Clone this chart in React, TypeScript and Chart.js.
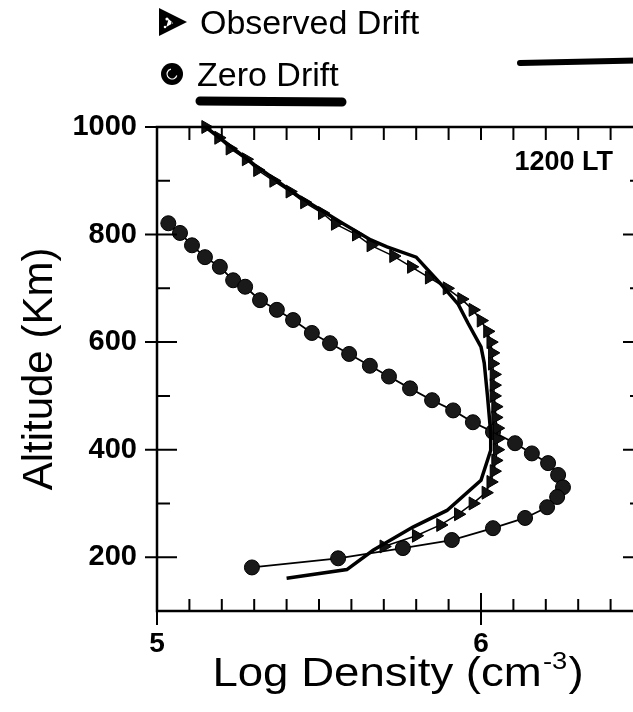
import React, { useEffect, useRef } from 'react';
import { Chart, registerables } from 'chart.js';

Chart.register(...registerables);

// ---- Data ----
// Observed Drift model (triangles)
const observedAlt = [1000, 980, 960, 940, 920, 900, 880, 860, 840, 820, 800, 780, 760, 740, 720, 700, 680, 660, 640, 620, 600, 580, 560, 540, 520, 500, 480, 460, 440, 420, 400, 380, 360, 340, 320, 300, 280, 260, 240, 220];
const observedLogN = [5.15, 5.19, 5.225, 5.275, 5.31, 5.36, 5.41, 5.455, 5.51, 5.55, 5.615, 5.66, 5.73, 5.785, 5.84, 5.895, 5.94, 5.975, 6.0, 6.02, 6.03, 6.035, 6.035, 6.04, 6.04, 6.04, 6.045, 6.045, 6.05, 6.05, 6.05, 6.045, 6.04, 6.03, 6.015, 5.975, 5.93, 5.875, 5.8, 5.7];

// Zero Drift model (circles)
const zeroAlt = [821, 803, 780, 758, 740, 715, 703, 678, 660, 641, 617, 598, 578, 556, 536, 514, 492, 473, 451, 433, 412, 393, 375, 353, 330, 312, 293, 273, 254, 232, 217, 198, 181];
const zeroLogN = [5.035, 5.071, 5.108, 5.148, 5.194, 5.235, 5.272, 5.318, 5.37, 5.42, 5.478, 5.534, 5.593, 5.657, 5.716, 5.781, 5.849, 5.914, 5.975, 6.037, 6.105, 6.157, 6.207, 6.238, 6.253, 6.235, 6.204, 6.136, 6.037, 5.91, 5.759, 5.559, 5.293];

// Measured profile (thick solid line)
const measuredAlt = [1000, 930, 870, 820, 790, 777, 758, 710, 670, 635, 591, 561, 500, 431, 399, 343, 287, 256, 213, 177, 161];
const measuredLogN = [5.15, 5.3, 5.44, 5.575, 5.66, 5.71, 5.8, 5.873, 5.93, 5.96, 6.0, 6.01, 6.02, 6.03, 6.03, 6.0, 5.895, 5.79, 5.667, 5.586, 5.4];

const seriesLabels = ['Observed Drift', 'Zero Drift', 'Measured'];
const xTickLabels = [5, 6];
const yTickLabels = [200, 400, 600, 800, 1000];
const panelLabel = '1200 LT';
const xTitleParts = ['Log Density (cm', '-3', ')'];
const yTitle = 'Altitude (Km)';

const FONT = '"Liberation Sans", Arial, Helvetica, sans-serif';

const decorPlugin = {
  id: 'decor',
  afterDraw(chart: any) {
    const { ctx, chartArea: a, scales } = chart;
    const xs = scales.x;
    const ys = scales.y;
    ctx.save();
    ctx.strokeStyle = '#000';
    ctx.fillStyle = '#000';
    // frame
    ctx.lineWidth = 2.5;
    ctx.beginPath();
    ctx.moveTo(a.left, a.top);
    ctx.lineTo(a.right, a.top);
    ctx.lineTo(a.right, a.bottom);
    ctx.lineTo(a.left, a.bottom);
    ctx.closePath();
    ctx.stroke();

    // ticks
    ctx.lineWidth = 2;
    ctx.beginPath();
    xs.ticks.forEach((t: any) => {
      const v = Math.round(t.value * 10) / 10;
      const px = xs.getPixelForValue(v);
      const major = xTickLabels.includes(v);
      const inLen = major ? 18 : 12;
      ctx.moveTo(px, a.bottom + (major ? 14 : 0));
      ctx.lineTo(px, a.bottom - inLen);
      ctx.moveTo(px, a.top);
      ctx.lineTo(px, a.top + 13);
    });
    ys.ticks.forEach((t: any) => {
      const v = Math.round(t.value);
      const py = ys.getPixelForValue(v);
      const major = yTickLabels.includes(v);
      const inLen = major ? 20 : 13;
      ctx.moveTo(a.left - (major ? 12 : 0), py);
      ctx.lineTo(a.left + inLen, py);
      ctx.moveTo(a.right, py);
      ctx.lineTo(a.right - inLen, py);
    });
    ctx.stroke();

    // panel label
    ctx.font = `bold 27px ${FONT}`;
    ctx.textAlign = 'right';
    ctx.textBaseline = 'alphabetic';
    ctx.fillText(panelLabel, 613, 170);

    // x title
    ctx.save();
    const cx = (a.left + 398 - 157);
    ctx.translate(cx, 686);
    ctx.scale(1.14, 1);
    ctx.font = `40px ${FONT}`;
    const w0 = ctx.measureText(xTitleParts[0]).width;
    const w2 = ctx.measureText(xTitleParts[2]).width;
    ctx.font = `24px ${FONT}`;
    const w1 = ctx.measureText(xTitleParts[1]).width;
    const total = w0 + w1 + w2 + 2;
    let x0 = -total / 2;
    ctx.textAlign = 'left';
    ctx.font = `40px ${FONT}`;
    ctx.fillText(xTitleParts[0], x0, 0);
    x0 += w0 + 1;
    ctx.font = `24px ${FONT}`;
    ctx.fillText(xTitleParts[1], x0, -17);
    x0 += w1 + 1;
    ctx.font = `40px ${FONT}`;
    ctx.fillText(xTitleParts[2], x0, 0);
    ctx.restore();

    // y title
    ctx.save();
    ctx.translate(52, (a.top + a.bottom) / 2);
    ctx.rotate(-Math.PI / 2);
    ctx.font = `42px ${FONT}`;
    ctx.textAlign = 'center';
    ctx.textBaseline = 'alphabetic';
    ctx.fillText(yTitle, 0, 0);
    ctx.restore();

    // legend
    const ds = chart.data.datasets;
    ctx.font = `34px ${FONT}`;
    ctx.textAlign = 'left';
    ctx.textBaseline = 'alphabetic';
    // triangle item
    ctx.beginPath();
    ctx.moveTo(159, 8);
    ctx.lineTo(187, 22);
    ctx.lineTo(159, 36);
    ctx.closePath();
    ctx.fill();
    ctx.fillStyle = '#fff';
    ctx.beginPath();
    ctx.arc(167, 19, 1.6, 0, Math.PI * 2);
    ctx.arc(165, 27, 1.3, 0, Math.PI * 2);
    ctx.arc(172, 23, 1.1, 0, Math.PI * 2);
    ctx.fill();
    ctx.fillStyle = '#000';
    ctx.fillText(ds[1].label, 200, 34);
    // circle item
    ctx.beginPath();
    ctx.arc(172, 74, 11, 0, Math.PI * 2);
    ctx.fill();
    ctx.strokeStyle = '#fff';
    ctx.lineWidth = 1.2;
    ctx.beginPath();
    ctx.arc(172, 74, 5, 0.3, 4.5);
    ctx.stroke();
    ctx.strokeStyle = '#000';
    ctx.fillText(ds[2].label, 197, 86);
    // underline bar
    ctx.lineCap = 'round';
    ctx.lineWidth = 9;
    ctx.beginPath();
    ctx.moveTo(200, 101);
    ctx.lineTo(342, 102);
    ctx.stroke();
    // measured-profile line sample
    ctx.lineWidth = 6;
    ctx.beginPath();
    ctx.moveTo(520, 63);
    ctx.lineTo(660, 60);
    ctx.stroke();
    ctx.restore();
  },
};

export default function App() {
  const ref = useRef<HTMLCanvasElement>(null);
  useEffect(() => {
    const toPts = (xs: number[], ys: number[]) => xs.map((x, i) => ({ x, y: ys[i] }));
    const chart = new Chart(ref.current as HTMLCanvasElement, {
      type: 'scatter',
      data: {
        datasets: [
          {
            label: seriesLabels[2],
            data: toPts(measuredLogN, measuredAlt),
            showLine: true,
            borderColor: '#000',
            borderWidth: 3.5,
            pointRadius: 0,
            clip: 12,
          },
          {
            label: seriesLabels[0],
            data: toPts(observedLogN, observedAlt),
            showLine: true,
            borderColor: '#000',
            borderWidth: 1.5,
            pointStyle: 'triangle',
            rotation: 90,
            pointRadius: 7.5,
            pointBackgroundColor: '#111',
            pointBorderColor: '#000',
            pointBorderWidth: 1,
            clip: 12,
          },
          {
            label: seriesLabels[1],
            data: toPts(zeroLogN, zeroAlt),
            showLine: true,
            borderColor: '#000',
            borderWidth: 1.8,
            pointStyle: 'circle',
            pointRadius: 7.5,
            pointBackgroundColor: '#1a1a1a',
            pointBorderColor: '#000',
            pointBorderWidth: 1,
            clip: 12,
          },
        ],
      } as any,
      options: {
        responsive: false,
        animation: false,
        devicePixelRatio: 1,
        layout: { padding: { top: 127, right: 17, left: 0, bottom: 0 } },
        plugins: { legend: { display: false }, tooltip: { enabled: false } },
        scales: {
          x: {
            type: 'linear',
            min: 5,
            max: 6.5,
            afterFit: (s: any) => { s.height = 101; },
            afterBuildTicks: (s: any) => {
              const t = [];
              for (let i = 0; i <= 15; i++) t.push({ value: Math.round((5 + i / 10) * 10) / 10 });
              s.ticks = t;
            },
            ticks: {
              autoSkip: false,
              maxRotation: 0,
              padding: 16,
              color: '#000',
              font: { family: FONT, weight: 'bold', size: 28 },
              callback: (v: any) => {
                const r = Math.round(Number(v) * 10) / 10;
                return xTickLabels.includes(r) ? String(r) : '';
              },
            },
            grid: { display: false, drawTicks: false },
            border: { display: false },
          },
          y: {
            type: 'linear',
            min: 100,
            max: 1000,
            afterFit: (s: any) => { s.width = 157; },
            afterBuildTicks: (s: any) => {
              const t = [];
              for (let v = 100; v <= 1000; v += 100) t.push({ value: v });
              s.ticks = t;
            },
            ticks: {
              autoSkip: false,
              padding: 20,
              color: '#000',
              font: { family: FONT, weight: 'bold', size: 29 },
              callback: (v: any) => (yTickLabels.includes(Math.round(Number(v))) ? String(Math.round(Number(v))) : ''),
            },
            grid: { display: false, drawTicks: false },
            border: { display: false },
          },
        },
      } as any,
      plugins: [decorPlugin],
    });
    return () => chart.destroy();
  }, []);

  return (
    <div style={{ position: 'fixed', left: 0, top: 0, width: 633, height: 712, overflow: 'hidden', background: '#fff' }}>
      <canvas ref={ref} width={660} height={712} style={{ display: 'block' }} />
    </div>
  );
}
